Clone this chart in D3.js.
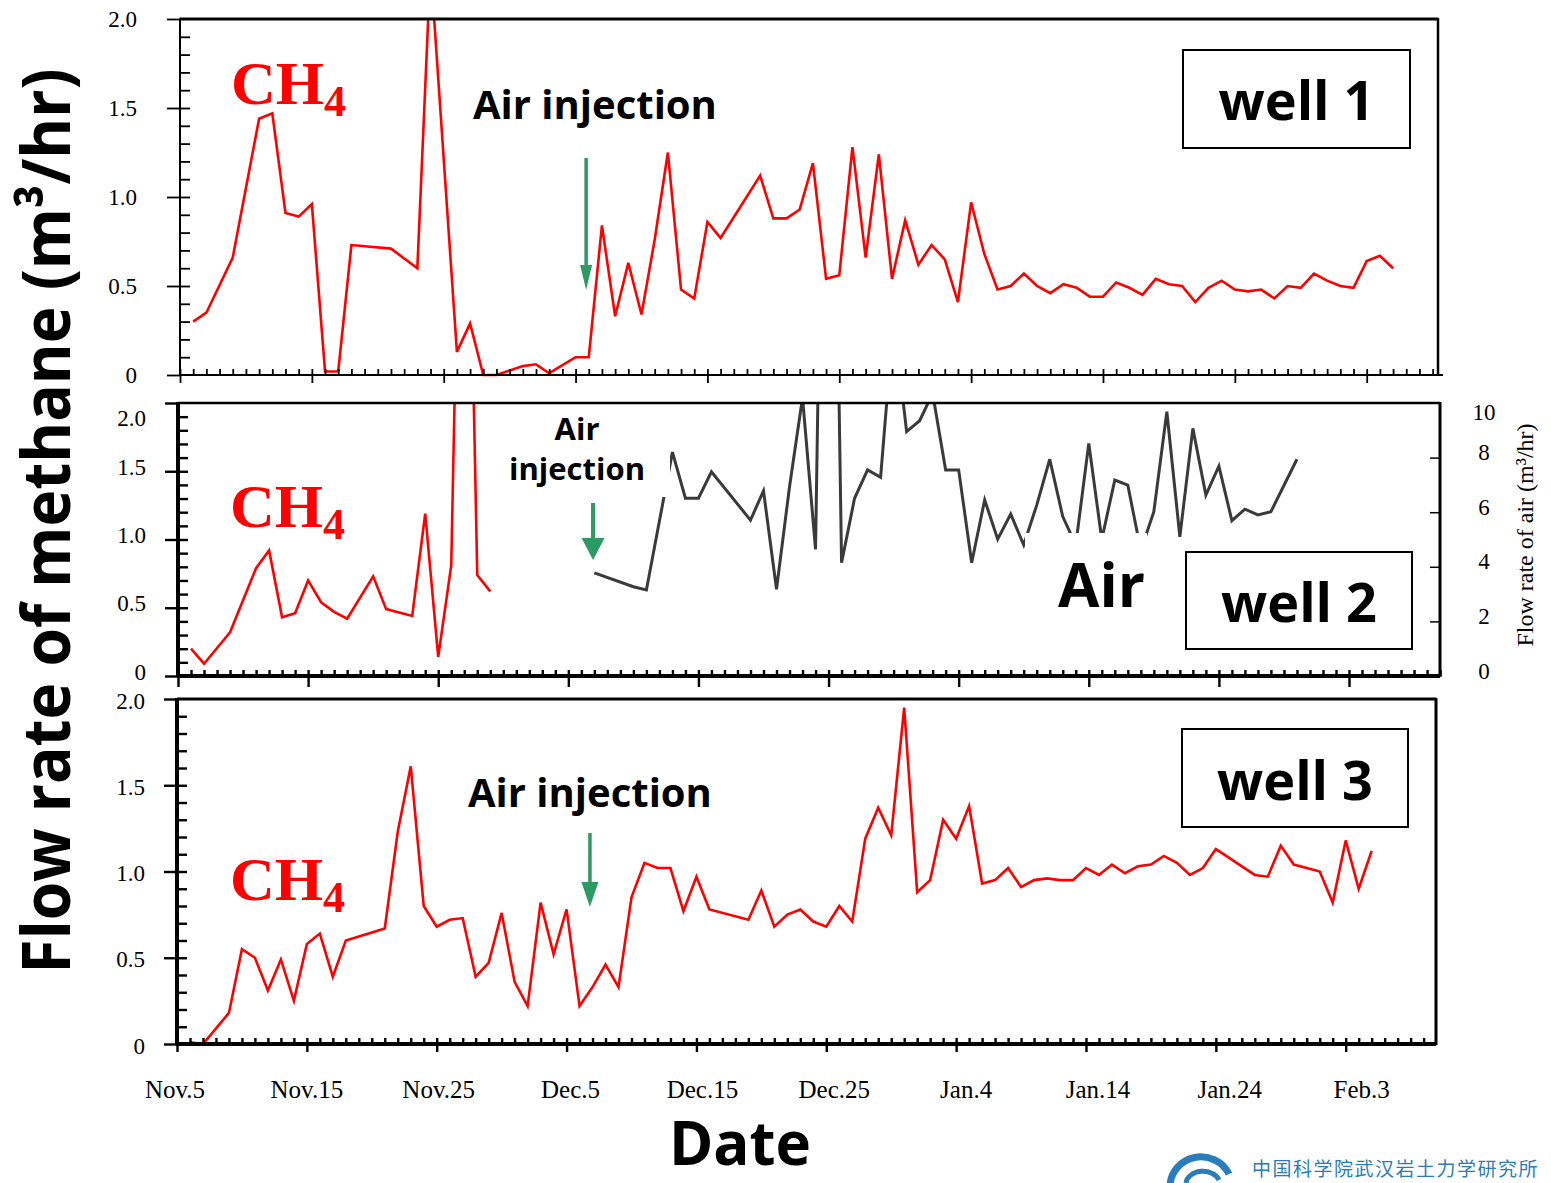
<!DOCTYPE html>
<html>
<head>
<meta charset="utf-8">
<script src="https://cdn.jsdelivr.net/npm/d3@7"></script>
<style>
  html, body { margin: 0; padding: 0; background: #fff; }
  svg { display: block; }
</style>
</head>
<body>
<div id="chart"></div>
<script>
'use strict';

// x values are days counted from Nov.5
var dateTicks = [0, 10, 20, 30, 40, 50, 60, 70, 80, 90];
var dateLabels = ['Nov.5', 'Nov.15', 'Nov.25', 'Dec.5', 'Dec.15', 'Dec.25', 'Jan.4', 'Jan.14', 'Jan.24', 'Feb.3'];
var methaneTicks = [0, 0.5, 1.0, 1.5, 2.0];
var methaneLabels = ['0', '0.5', '1.0', '1.5', '2.0'];
var airTicks = [0, 2, 4, 6, 8, 10];
var airLabels = ['0', '2', '4', '6', '8', '10'];

var well1Days = [1, 2, 4, 6, 7, 8, 9, 10, 11, 12, 13, 16, 18, 19, 21, 22, 23, 24, 26, 27,
  28, 30, 31, 32, 33, 34, 35, 36, 37, 38, 39, 40, 41, 44, 45, 46, 47, 48, 49, 50,
  51, 52, 53, 54, 55, 56, 57, 58, 59, 60, 61, 62, 63, 64, 65, 66, 67, 68, 69, 70,
  71, 72, 73, 74, 75, 76, 77, 78, 79, 80, 81, 82, 83, 84, 85, 86, 87, 88, 89, 90, 91, 92];
var well1Methane = [0.30, 0.35, 0.66, 1.44, 1.47, 0.91, 0.89, 0.96, 0.02, 0.02,
  0.73, 0.71, 0.60, 2.30, 0.13, 0.29, 0.00, 0.00, 0.05, 0.06,
  0.01, 0.10, 0.10, 0.84, 0.33, 0.63, 0.34, 0.76, 1.25, 0.48,
  0.43, 0.86, 0.77, 1.12, 0.88, 0.88, 0.93, 1.19, 0.54, 0.56,
  1.28, 0.66, 1.24, 0.54, 0.87, 0.62, 0.73, 0.65, 0.41, 0.97,
  0.68, 0.48, 0.50, 0.57, 0.50, 0.46, 0.51, 0.49, 0.44, 0.44,
  0.52, 0.49, 0.45, 0.54, 0.51, 0.50, 0.41, 0.49, 0.53, 0.48,
  0.47, 0.48, 0.43, 0.50, 0.49, 0.57, 0.53, 0.50, 0.49, 0.64, 0.67, 0.60];

var well2Days = [1, 2, 4, 6, 7, 8, 9, 10, 11, 12, 13, 15, 16, 18, 19, 20, 21, 22, 23, 24];
var well2Methane = [0.20, 0.09, 0.32, 0.79, 0.92, 0.43, 0.46, 0.70, 0.54, 0.47,
  0.42, 0.73, 0.49, 0.44, 1.19, 0.14, 0.81, 5.5, 0.74, 0.62];
var well2AirDays = [32, 35, 36, 38, 39, 40, 41, 44, 45, 46, 47, 48, 49, 50, 51, 52, 53, 54, 55, 56,
  57, 58, 59, 60, 61, 62, 63, 64, 65, 66, 67, 68, 69, 70, 71, 72, 73, 74, 75, 76,
  77, 78, 79, 80, 81, 82, 83, 84, 86];
var well2Air = [3.78, 3.27, 3.15, 8.2, 6.51, 6.51, 7.48, 5.71, 6.78, 3.18,
  6.93, 10.2, 4.64, 35, 4.15, 6.51, 7.55, 7.28, 13.1, 8.95,
  9.35, 10.35, 7.55, 7.55, 4.15, 6.45, 5.01, 5.93, 4.80, 6.26,
  7.94, 5.84, 4.8, 8.52, 5.0, 7.18, 6.99, 4.6, 6.02, 9.68,
  5.10, 9.07, 6.63, 7.69, 5.69, 6.11, 5.90, 6.02, 7.94];

var well3Days = [1, 2, 4, 5, 6, 7, 8, 9, 10, 11, 12, 13, 16, 17, 18, 19, 20, 21, 22, 23,
  24, 25, 26, 27, 28, 29, 30, 31, 32, 33, 34, 35, 36, 37, 38, 39, 40, 41, 44, 45,
  46, 47, 48, 49, 50, 51, 52, 53, 54, 55, 56, 57, 58, 59, 60, 61, 62, 63, 64, 65,
  66, 67, 68, 69, 70, 71, 72, 73, 74, 75, 76, 77, 78, 79, 80, 81, 82, 83, 84, 85,
  86, 87, 88, 89, 90, 91, 92];
var well3Methane = [0.01, 0.00, 0.18, 0.55, 0.50, 0.31, 0.49, 0.25, 0.58, 0.64,
  0.39, 0.60, 0.67, 1.23, 1.61, 0.80, 0.68, 0.72, 0.73, 0.39,
  0.47, 0.76, 0.36, 0.22, 0.82, 0.52, 0.78, 0.22, 0.33, 0.46,
  0.33, 0.85, 1.05, 1.02, 1.02, 0.77, 0.97, 0.78, 0.72, 0.89,
  0.68, 0.75, 0.78, 0.71, 0.68, 0.80, 0.71, 1.19, 1.37, 1.21,
  1.95, 0.88, 0.95, 1.30, 1.19, 1.38, 0.93, 0.95, 1.02, 0.91,
  0.95, 0.96, 0.95, 0.95, 1.02, 0.98, 1.04, 0.99, 1.03, 1.04,
  1.09, 1.05, 0.98, 1.02, 1.13, 1.08, 1.03, 0.98, 0.97, 1.15,
  1.04, 1.02, 1.00, 0.82, 1.18, 0.90, 1.12];

// day of the "Air injection" arrow in each panel
var injectionDays = [30.8, 31.9, 31.8];

var W = 1551, H = 1183;
var serif = '"Liberation Serif", "Times New Roman", serif';
var sans = '"Open Sans", "DejaVu Sans", sans-serif';
var red = '#ff0000', airColor = '#3a3a3a', green = '#2e9a63', blue = '#2a7db8';

var panels = [
  {
    top: 19, bottom: 375, left: 180, right: 1438, feb3X: 1366.7, lastDay: 95,
    frame: [2, 3, 2.5, 2.2], overhang: 5, tickW: 1.8,
    days: well1Days, values: well1Methane,
    well: 'well 1', wellBox: [1183, 50, 227, 98], wellBase: 120,
    ch4: [231, 104],
    inj: { lines: ['Air injection'], x: 473, base: [119], size: 40, anchor: 'start' },
    arrow: { y0: 158, y1: 265, y2: 290, half: 6, w: 3.5 },
    labelRight: 137, labelShift: 0
  },
  {
    top: 403, bottom: 676, left: 178, right: 1440, feb3X: 1349, lastDay: 97,
    frame: [4, 2.5, 3, 4], overhang: 0, tickW: 2.4,
    days: well2Days, values: well2Methane,
    airDays: well2AirDays, air: well2Air,
    well: 'well 2', wellBox: [1186, 552, 226, 97], wellBase: 622,
    ch4: [230, 527],
    inj: { lines: ['Air', 'injection'], x: 577, base: [440, 480], size: 31, anchor: 'middle' },
    cover: [505, 405, 165, 92],
    arrow: { y0: 503, y1: 538, y2: 560, half: 11.5, w: 4 },
    labelRight: 146, labelShift: -4
  },
  {
    top: 699, bottom: 1044, left: 177, right: 1436, feb3X: 1345.7, lastDay: 96,
    frame: [4, 3, 3, 4], overhang: 0, tickW: 2.4,
    days: well3Days, values: well3Methane,
    well: 'well 3', wellBox: [1182, 729, 226, 98], wellBase: 800,
    ch4: [230, 900],
    inj: { lines: ['Air injection'], x: 468, base: [807], size: 40, anchor: 'start' },
    arrow: { y0: 833, y1: 882, y2: 907, half: 8.5, w: 3.5 },
    labelRight: 145, labelShift: 2
  }
];

var svg = d3.select('#chart')
  .append('svg')
  .attr('width', W)
  .attr('height', H)
  .attr('viewBox', '0 0 ' + W + ' ' + H);

svg.append('rect').attr('width', W).attr('height', H).attr('fill', 'white');

var topX = null;

panels.forEach(function(p, i) {
  var x, y, yAir, g, clipId, line, lineAir, a, ax, minor, major;

  x = d3.scaleLinear().domain([0, 90]).range([p.left, p.feb3X]);
  y = d3.scaleLinear().domain([0, 2]).range([p.bottom, p.top]);
  if (i === 0) { topX = x; }

  g = svg.append('g').attr('class', 'panel-' + (i + 1));

  clipId = 'clip-' + i;
  svg.append('clipPath').attr('id', clipId)
    .append('rect')
    .attr('x', p.left)
    .attr('y', p.top)
    .attr('width', p.right - p.left)
    .attr('height', p.bottom - p.top + 2);

  // methane line
  line = d3.line()
    .x(function(d) { return x(d[0]); })
    .y(function(d) { return y(d[1]); });

  g.append('path')
    .datum(d3.zip(p.days, p.values))
    .attr('d', line)
    .attr('fill', 'none')
    .attr('stroke', red)
    .attr('stroke-width', 2.6)
    .attr('clip-path', 'url(#' + clipId + ')');

  // air line on the right axis (well 2 only)
  if (p.air) {
    yAir = d3.scaleLinear().domain([0, 10]).range([p.bottom, p.top]);
    lineAir = d3.line()
      .x(function(d) { return x(d[0]); })
      .y(function(d) { return yAir(d[1]); });
    g.append('path')
      .datum(d3.zip(p.airDays, p.air))
      .attr('d', lineAir)
      .attr('fill', 'none')
      .attr('stroke', airColor)
      .attr('stroke-width', 3)
      .attr('clip-path', 'url(#' + clipId + ')');

    // text boxes of the slide hide parts of the air line
    g.append('rect')
      .attr('x', p.cover[0]).attr('y', p.cover[1])
      .attr('width', p.cover[2]).attr('height', p.cover[3])
      .attr('fill', 'white');
    g.append('rect')
      .attr('x', 1025).attr('y', 533)
      .attr('width', 122).attr('height', 95)
      .attr('fill', 'white');
    g.append('text')
      .attr('x', 1058).attr('y', 607)
      .attr('font-family', sans).attr('font-weight', 700)
      .attr('font-size', 60)
      .text('Air');

    // right axis
    ax = g.append('g')
      .attr('transform', 'translate(' + p.right + ',0)')
      .call(d3.axisLeft(yAir).tickValues([2, 4, 6, 8]).tickSize(10).tickFormat(''));
    ax.select('.domain').remove();
    ax.selectAll('line').attr('stroke', 'black').attr('stroke-width', 1.5);

    g.selectAll('.air-label')
      .data(airTicks)
      .enter().append('text')
      .attr('class', 'air-label')
      .attr('x', 1484)
      .attr('y', function(d) { return Math.max(yAir(d) - 5, p.top + 9); })
      .attr('text-anchor', 'middle')
      .attr('dominant-baseline', 'central')
      .attr('font-family', serif)
      .attr('font-size', 23)
      .text(function(d, k) { return airLabels[k]; });

    g.append('text')
      .attr('transform', 'translate(1533,535) rotate(-90)')
      .attr('text-anchor', 'middle')
      .attr('font-family', serif)
      .attr('font-size', 24)
      .text('Flow rate of air (m\u00b3/hr)');
  }

  // frame
  g.append('line').attr('x1', p.left).attr('x2', p.left)
    .attr('y1', p.top - 1).attr('y2', p.bottom + 1)
    .attr('stroke', 'black').attr('stroke-width', p.frame[0]);
  g.append('line').attr('x1', p.left).attr('x2', p.right)
    .attr('y1', p.top).attr('y2', p.top)
    .attr('stroke', 'black').attr('stroke-width', p.frame[1]);
  g.append('line').attr('x1', p.right).attr('x2', p.right)
    .attr('y1', p.top - 1).attr('y2', p.bottom + 1)
    .attr('stroke', 'black').attr('stroke-width', p.frame[2]);
  g.append('line').attr('x1', p.left - 1).attr('x2', p.right + p.overhang)
    .attr('y1', p.bottom).attr('y2', p.bottom)
    .attr('stroke', 'black').attr('stroke-width', p.frame[3]);

  // left axis ticks: minor inside, major also outside
  minor = g.append('g')
    .attr('transform', 'translate(' + p.left + ',0)')
    .call(d3.axisRight(y).tickValues(d3.range(1, 20).map(function(k) { return k / 10; }))
      .tickSize(10).tickFormat(''));
  major = g.append('g')
    .attr('transform', 'translate(' + p.left + ',0)')
    .call(d3.axisLeft(y).tickValues(methaneTicks).tickSize(13).tickFormat(''));
  minor.select('.domain').remove();
  major.select('.domain').remove();
  minor.selectAll('line').attr('stroke', 'black').attr('stroke-width', p.tickW);
  major.selectAll('line').attr('stroke', 'black').attr('stroke-width', p.tickW);

  g.selectAll('.m-label')
    .data(methaneTicks)
    .enter().append('text')
    .attr('class', 'm-label')
    .attr('x', p.labelRight)
    .attr('y', function(d) {
      var v = y(d) + p.labelShift;
      if (i === 1 && d === 2) { v = p.top + 15; }
      return v;
    })
    .attr('text-anchor', 'end')
    .attr('dominant-baseline', 'central')
    .attr('font-family', serif)
    .attr('font-size', 23)
    .text(function(d, k) { return methaneLabels[k]; });

  // bottom axis ticks: one per day inside, one per 10 days crossing
  minor = g.append('g')
    .attr('transform', 'translate(0,' + p.bottom + ')')
    .call(d3.axisTop(x).tickValues(d3.range(0, p.lastDay + 1)).tickSize(6).tickFormat(''));
  major = g.append('g')
    .attr('transform', 'translate(0,' + p.bottom + ')')
    .call(d3.axisBottom(x).tickValues(dateTicks).tickSize(i === 1 ? 11 : 8).tickFormat(''));
  minor.select('.domain').remove();
  major.select('.domain').remove();
  minor.selectAll('line').attr('stroke', 'black').attr('stroke-width', p.tickW);
  major.selectAll('line').attr('stroke', 'black').attr('stroke-width', p.tickW);

  // CH4 label
  a = g.append('text')
    .attr('x', p.ch4[0]).attr('y', p.ch4[1])
    .attr('fill', red)
    .attr('font-family', serif)
    .attr('font-weight', 700)
    .attr('font-size', 62);
  a.append('tspan').text('CH');
  a.append('tspan').attr('dy', 12).attr('font-size', 44).text('4');

  // Air injection label and arrow
  p.inj.lines.forEach(function(t, k) {
    g.append('text')
      .attr('x', p.inj.x).attr('y', p.inj.base[k])
      .attr('text-anchor', p.inj.anchor)
      .attr('font-family', sans)
      .attr('font-weight', 700)
      .attr('font-size', p.inj.size)
      .text(t);
  });

  ax = x(injectionDays[i]);
  g.append('path')
    .attr('d', 'M' + (ax - p.arrow.w / 2) + ',' + p.arrow.y0 +
      'L' + (ax + p.arrow.w / 2) + ',' + p.arrow.y0 +
      'L' + (ax + p.arrow.w / 2) + ',' + p.arrow.y1 +
      'L' + (ax + p.arrow.half) + ',' + p.arrow.y1 +
      'L' + ax + ',' + p.arrow.y2 +
      'L' + (ax - p.arrow.half) + ',' + p.arrow.y1 +
      'L' + (ax - p.arrow.w / 2) + ',' + p.arrow.y1 + 'Z')
    .attr('fill', green);

  // well box
  g.append('rect')
    .attr('x', p.wellBox[0]).attr('y', p.wellBox[1])
    .attr('width', p.wellBox[2]).attr('height', p.wellBox[3])
    .attr('fill', 'white')
    .attr('stroke', 'black')
    .attr('stroke-width', 2);
  g.append('text')
    .attr('x', p.wellBox[0] + p.wellBox[2] / 2)
    .attr('y', p.wellBase)
    .attr('text-anchor', 'middle')
    .attr('font-family', sans)
    .attr('font-weight', 700)
    .attr('font-size', 54)
    .text(p.well);
});

// date labels under the last panel, aligned with the top panel ticks
svg.selectAll('.date-label')
  .data(dateTicks)
  .enter().append('text')
  .attr('class', 'date-label')
  .attr('x', function(d) { return topX(d) - 5; })
  .attr('y', 1098)
  .attr('text-anchor', 'middle')
  .attr('font-family', serif)
  .attr('font-size', 25)
  .text(function(d, k) { return dateLabels[k]; });

// axis titles
svg.append('text')
  .attr('transform', 'translate(70,521) rotate(-90)')
  .attr('text-anchor', 'middle')
  .attr('font-family', sans)
  .attr('font-weight', 700)
  .attr('font-size', 66)
  .attr('textLength', 905)
  .attr('lengthAdjust', 'spacingAndGlyphs')
  .text('Flow rate of methane (m\u00b3/hr)');

svg.append('text')
  .attr('x', 740).attr('y', 1165)
  .attr('text-anchor', 'middle')
  .attr('font-family', sans)
  .attr('font-weight', 700)
  .attr('font-size', 60)
  .text('Date');

// institute logo at the lower right corner
var logo = svg.append('g').attr('fill', 'none').attr('stroke', blue);
logo.append('path')
  .attr('d', 'M1170,1186 A31,30 0 0,1 1229,1174')
  .attr('stroke-width', 7);
logo.append('path')
  .attr('d', 'M1186,1183 A17,13 0 0,1 1219,1180')
  .attr('stroke-width', 5);
svg.append('text')
  .attr('x', 1252).attr('y', 1176)
  .attr('fill', blue)
  .attr('font-family', '"Noto Sans CJK SC", sans-serif')
  .attr('font-size', 19)
  .attr('letter-spacing', 1.5)
  .text('中国科学院武汉岩土力学研究所');
</script>
</body>
</html>
